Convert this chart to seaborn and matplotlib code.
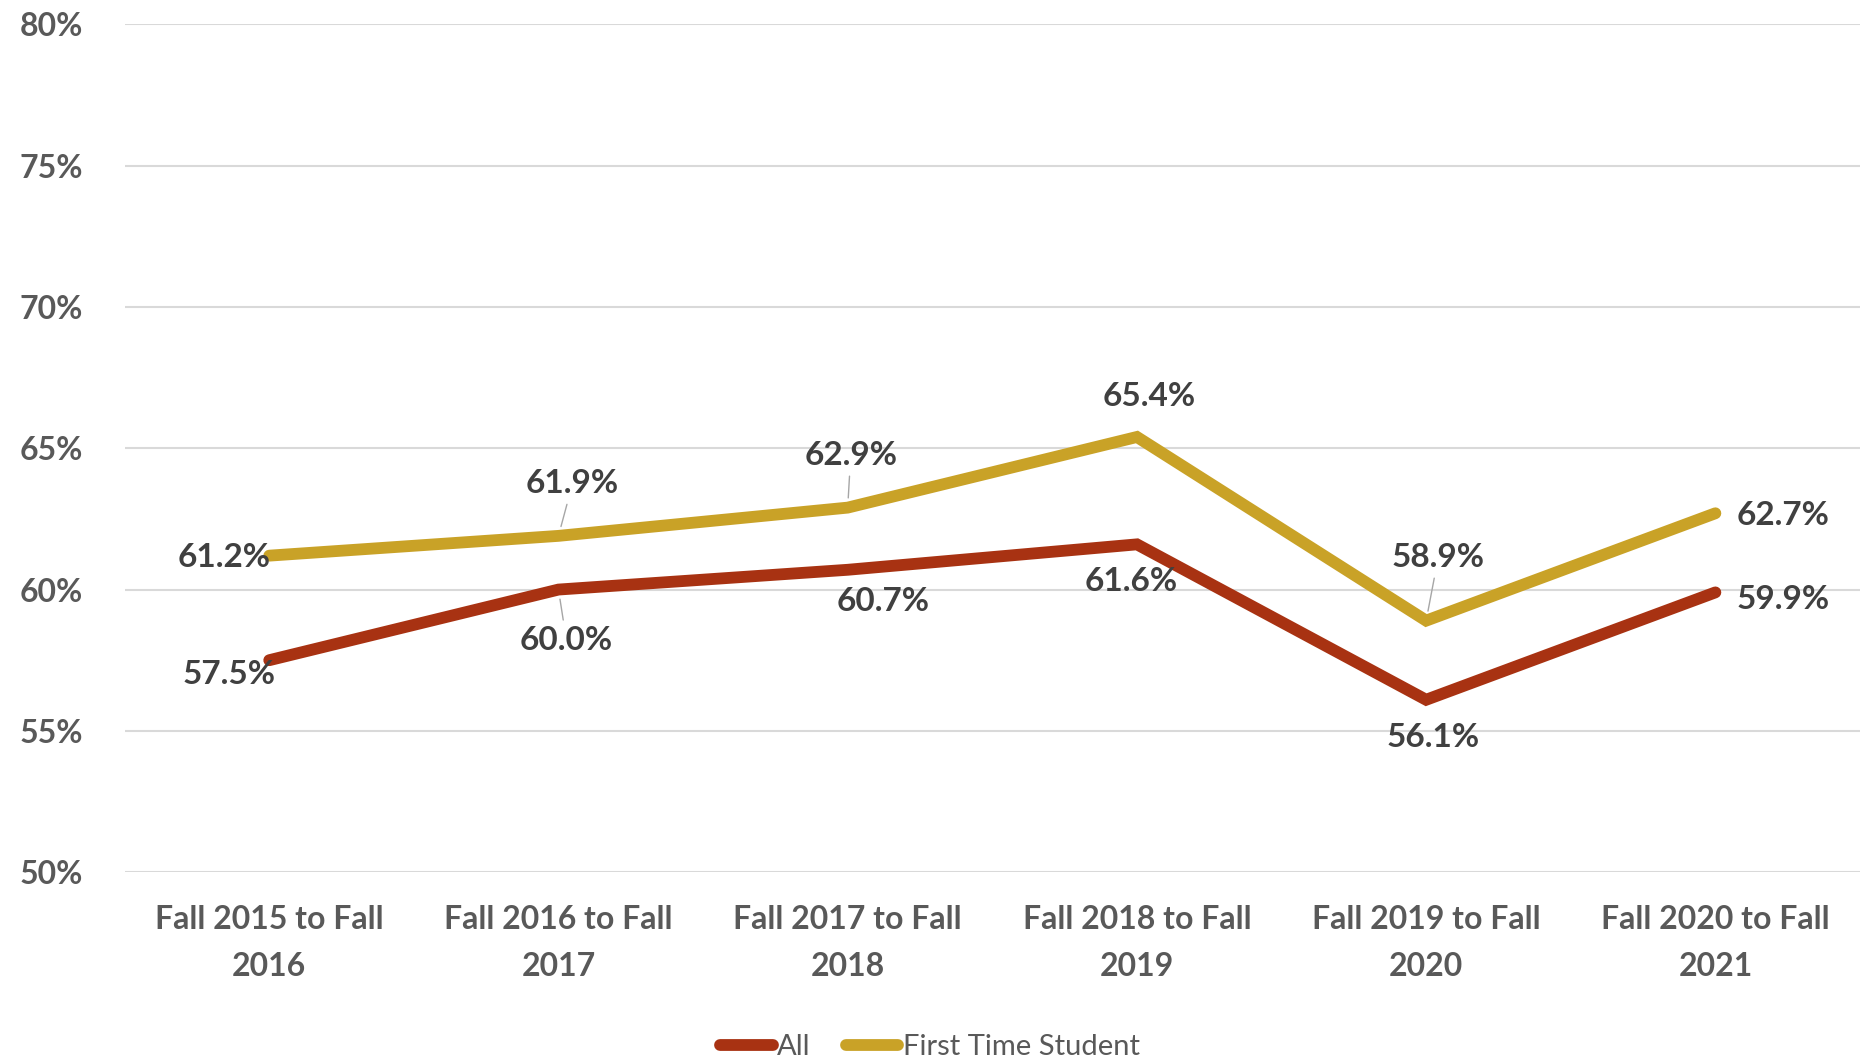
import pandas as pd
import matplotlib.pyplot as plt
import seaborn as sns

# Data
periods = ["Fall 2015 to Fall\n2016", "Fall 2016 to Fall\n2017", "Fall 2017 to Fall\n2018",
           "Fall 2018 to Fall\n2019", "Fall 2019 to Fall\n2020", "Fall 2020 to Fall\n2021"]
all_vals = [57.5, 60.0, 60.7, 61.6, 56.1, 59.9]
first_time = [61.2, 61.9, 62.9, 65.4, 58.9, 62.7]
series_names = ["All", "First Time Student"]
y_ticks = [50, 55, 60, 65, 70, 75, 80]

# label offsets in pixels (dx, dy) and whether a leader line is drawn
all_offsets = [(-40, -14), (8, -51), (35, -32), (-6, -37), (7, -38), (68, -7)]
ft_offsets = [(-45, -2), (14, 52), (3, 52), (12, 40), (12, 63), (68, -2)]
all_leader = [False, True, False, False, False, False]
ft_leader = [False, True, True, False, True, False]

colors = {"All": "#A83212", "First Time Student": "#C9A227"}
text_gray = "#595959"

df = pd.DataFrame({
    "period": list(range(len(periods))) * 2,
    "value": all_vals + first_time,
    "series": [series_names[0]] * len(periods) + [series_names[1]] * len(periods),
})

sns.set_theme(style="white")
plt.rcParams["font.family"] = ["Lato", "DejaVu Sans"]
plt.rcParams["font.weight"] = "bold"

fig = plt.figure(figsize=(18.6, 10.61), dpi=100)
ax = fig.add_axes([0.067, 0.178, 0.933, 0.799])

sns.lineplot(data=df, x="period", y="value", hue="series", palette=colors,
             linewidth=8.5, ax=ax, legend=False, solid_capstyle="round",
             solid_joinstyle="miter")

ax.set_xlim(-0.5, len(periods) - 0.5)
ax.set_ylim(50, 80)
ax.set_yticks(y_ticks)
ax.set_yticklabels([f"{t}%" for t in y_ticks], color=text_gray, fontsize=23)
ax.set_xticks(range(len(periods)))
ax.set_xticklabels(periods, color=text_gray, fontsize=23, linespacing=1.75)
ax.tick_params(axis="x", length=0, pad=24)
ax.tick_params(axis="y", length=0, pad=30)
ax.yaxis.grid(True, color="#D9D9D9", linewidth=1.5)
ax.set_axisbelow(True)
ax.set_xlabel("")
ax.set_ylabel("")
sns.despine(ax=ax, left=True, bottom=True)

def add_labels(vals, offsets, leaders):
    for i, (v, off, lead) in enumerate(zip(vals, offsets, leaders)):
        arrow = None
        if lead:
            arrow = dict(arrowstyle="-", color="#A6A6A6", lw=1, shrinkA=2, shrinkB=7)
        ax.annotate(f"{v:.1f}%", xy=(i, v), xytext=(off[0] * 0.72, off[1] * 0.72),
                    textcoords="offset points", ha="center", va="center",
                    fontsize=24, color="#404040", arrowprops=arrow)

add_labels(all_vals, all_offsets, all_leader)
add_labels(first_time, ft_offsets, ft_leader)

handles = [plt.Line2D([], [], color=colors[s], lw=8.5, solid_capstyle="round") for s in series_names]
fig.legend(handles, series_names, loc="lower center", bbox_to_anchor=(0.5, -0.024),
           ncol=2, frameon=False, fontsize=21, handlelength=1.8, handletextpad=0.15,
           columnspacing=1.2, labelcolor=text_gray, prop={"weight": "normal", "size": 21})

plt.savefig("out.png", dpi=100)
plt.close()
